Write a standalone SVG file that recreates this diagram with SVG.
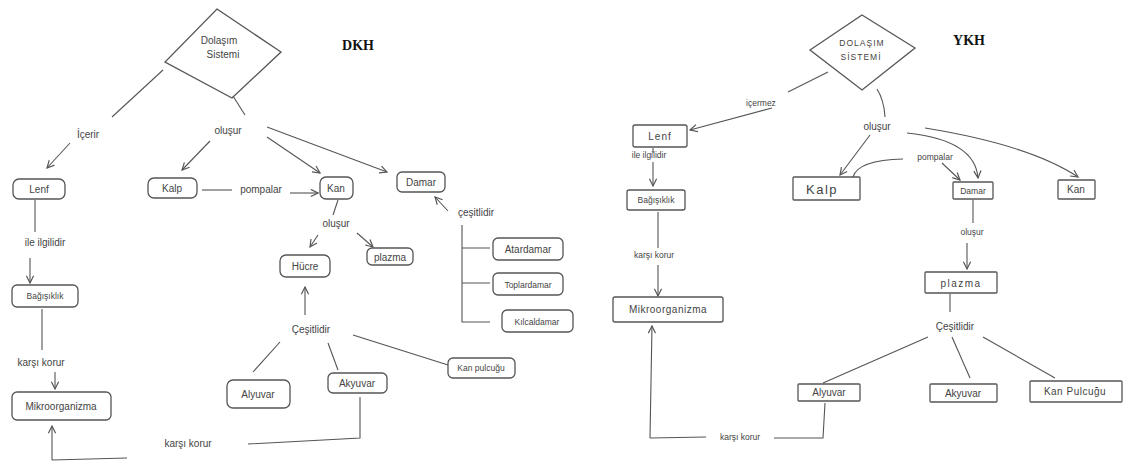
<svg xmlns="http://www.w3.org/2000/svg" width="1125" height="462" viewBox="0 0 1125 462">
<defs>
<marker id="ah" viewBox="0 0 10 10" refX="9" refY="5" markerWidth="9" markerHeight="9" markerUnits="userSpaceOnUse" orient="auto">
<path d="M1,1 L9,5 L1,9" fill="none" stroke="#555" stroke-width="1.3"/>
</marker>
<style>
.bx{fill:none;stroke:#555;stroke-width:1.3}
.ln{fill:none;stroke:#555;stroke-width:1.1}
.ar{fill:none;stroke:#555;stroke-width:1.1;marker-end:url(#ah)}
.t{font-family:"Liberation Sans",Arial,sans-serif;font-size:10px;fill:#444;text-anchor:middle}
.s{font-size:8.5px}
.lg{font-size:13px}
.h{font-family:"Liberation Serif","Times New Roman",serif;font-size:14px;font-weight:bold;fill:#111;text-anchor:middle}
</style>
</defs>
<rect width="1125" height="462" fill="#fff"/>

<g id="connectors">
<!-- left diagram -->
<path class="ln" d="M163,70 L112,117"/>
<path class="ar" d="M70,143 L47,168"/>
<path class="ln" d="M233,96 L245,115"/>
<path class="ar" d="M210,141 L182,170"/>
<path class="ar" d="M267,137 L320,173"/>
<path class="ar" d="M267,127 L387,172"/>
<path class="ln" d="M202,190 L232,190"/>
<path class="ar" d="M290,193 L318,193"/>
<path class="ar" d="M448,211 L435,197"/>
<path class="ln" d="M462,225 L462,322 L490,322 M462,248 L490,248 M462,283 L490,283"/>
<path class="ln" d="M338,200 L333,215"/>
<path class="ar" d="M318,235 L310,247"/>
<path class="ar" d="M357,233 L373,247"/>
<path class="ar" d="M305,315 L305,287"/>
<path class="ln" d="M280,342 L253,372"/>
<path class="ln" d="M328,343 L338,370"/>
<path class="ln" d="M353,335 L448,365"/>
<path class="ln" d="M35,200 L35,232"/>
<path class="ar" d="M30,258 L30,283"/>
<path class="ln" d="M42,309 L42,350"/>
<path class="ar" d="M55,372 L55,389"/>
<path class="ln" d="M360,397 L360,438 L248,444"/>
<path class="ln" d="M127,458 L52,460"/>
<path class="ar" d="M52,460 L52,426"/>
<!-- right diagram -->
<path class="ln" d="M828,72 L788,92"/>
<path class="ar" d="M772,108 L690,130"/>
<path class="ln" d="M653,148 L653,153"/>
<path class="ar" d="M653,162 L653,186"/>
<path class="ln" d="M658,212 L658,248"/>
<path class="ar" d="M658,265 L658,296"/>
<path class="ln" d="M877,89 Q884,100 885,117"/>
<path class="ar" d="M870,135 L840,175"/>
<path class="ar" d="M907,133 Q975,140 978,178"/>
<path class="ar" d="M925,128 Q1030,145 1078,177"/>
<path class="ln" d="M903,159 Q858,160 853,177"/>
<path class="ar" d="M942,163 L960,180"/>
<path class="ln" d="M973,200 L973,223"/>
<path class="ar" d="M967,243 L967,269"/>
<path class="ln" d="M950,294 L950,312"/>
<path class="ln" d="M928,337 L823,383"/>
<path class="ln" d="M952,337 L970,378"/>
<path class="ln" d="M983,337 L1055,378"/>
<path class="ln" d="M825,403 L823,438 L774,438 M706,437 L650,438"/>
<path class="ar" d="M650,438 L652,326"/>
</g>

<g id="labels">
<text class="t" x="88" y="138">İçerir</text>
<text class="t" x="228" y="134">oluşur</text>
<text class="t" x="261" y="193">pompalar</text>
<text class="t" x="476" y="216">çeşitlidir</text>
<text class="t" x="336" y="227">oluşur</text>
<text class="t" x="311" y="333">Çeşitlidir</text>
<text class="t" x="45" y="246">ile ilgilidir</text>
<text class="t" x="41" y="366">karşı korur</text>
<text class="t" x="188" y="447">karşı korur</text>
<text class="t s" x="761" y="106">içermez</text>
<text class="t s" x="649" y="158">ile ilgilidir</text>
<text class="t s" x="654" y="258">karşı korur</text>
<text class="t" x="877" y="130">oluşur</text>
<text class="t s" x="935" y="160">pompalar</text>
<text class="t s" x="972" y="235">oluşur</text>
<text class="t" x="955" y="330">Çeşitlidir</text>
<text class="t s" x="740" y="440">karşı korur</text>
</g>

<g id="dkh-title"><text class="h" x="358" y="50">DKH</text></g>
<g id="ykh-title"><text class="h" x="969" y="45">YKH</text></g>

<g id="dkh-dolasim"><path class="bx" d="M217,9 L281,52 L232,98 L165,62 Z"/><text class="t" x="219" y="44">Dolaşım</text><text class="t" x="223" y="58">Sistemi</text></g>
<g id="dkh-lenf"><rect class="bx" x="13" y="179" width="52" height="20" rx="6"/><text class="t" x="39" y="193">Lenf</text></g>
<g id="dkh-kalp"><rect class="bx" x="148" y="178" width="49" height="20" rx="6"/><text class="t" x="172" y="192">Kalp</text></g>
<g id="dkh-kan"><rect class="bx" x="320" y="177" width="33" height="22" rx="6"/><text class="t" x="336" y="192">Kan</text></g>
<g id="dkh-damar"><rect class="bx" x="397" y="172" width="48" height="20" rx="5"/><text class="t" x="421" y="186">Damar</text></g>
<g id="dkh-atardamar"><rect class="bx" x="493" y="238" width="70" height="22" rx="5"/><text class="t" x="528" y="253">Atardamar</text></g>
<g id="dkh-toplardamar"><rect class="bx" x="493" y="273" width="70" height="22" rx="5"/><text class="t s" x="528" y="288">Toplardamar</text></g>
<g id="dkh-kilcaldamar"><rect class="bx" x="502" y="310" width="71" height="22" rx="5"/><text class="t s" x="537" y="325">Kılcaldamar</text></g>
<g id="dkh-hucre"><rect class="bx" x="280" y="255" width="50" height="22" rx="6"/><text class="t" x="305" y="270">Hücre</text></g>
<g id="dkh-plazma"><rect class="bx" x="367" y="248" width="46" height="17" rx="5"/><text class="t" x="390" y="261">plazma</text></g>
<g id="dkh-alyuvar"><rect class="bx" x="227" y="380" width="63" height="28" rx="6"/><text class="t" x="258" y="398">Alyuvar</text></g>
<g id="dkh-akyuvar"><rect class="bx" x="328" y="373" width="59" height="20" rx="5"/><text class="t" x="357" y="387">Akyuvar</text></g>
<g id="dkh-kanpulcugu"><rect class="bx" x="448" y="358" width="67" height="20" rx="5"/><text class="t s" x="481" y="371">Kan pulcuğu</text></g>
<g id="dkh-bagisiklik"><rect class="bx" x="12" y="285" width="66" height="22" rx="5"/><text class="t s" x="45" y="299">Bağışıklık</text></g>
<g id="dkh-mikroorganizma"><rect class="bx" x="12" y="392" width="99" height="28" rx="5"/><text class="t" x="61" y="410">Mikroorganizma</text></g>

<g id="ykh-dolasim"><path class="bx" d="M862,15 L915,48 L862,90 L810,50 Z"/><text class="t s" x="862" y="46" letter-spacing="1">DOLAŞIM</text><text class="t s" x="861" y="60" letter-spacing="1">SİSTEMİ</text></g>
<g id="ykh-lenf"><rect class="bx" x="633" y="125" width="54" height="22" rx="2"/><text class="t" x="660" y="140" letter-spacing="1">Lenf</text></g>
<g id="ykh-bagisiklik"><rect class="bx" x="627" y="190" width="58" height="20" rx="2"/><text class="t s" x="656" y="203">Bağışıklık</text></g>
<g id="ykh-mikroorganizma"><rect class="bx" x="613" y="297" width="110" height="25" rx="2"/><text class="t" x="668" y="313" letter-spacing="0.5">Mikroorganizma</text></g>
<g id="ykh-kalp"><rect class="bx" x="793" y="177" width="67" height="23" rx="1"/><text class="t lg" x="822" y="194" letter-spacing="1.5">Kalp</text></g>
<g id="ykh-damar"><rect class="bx" x="953" y="182" width="40" height="17" rx="1"/><text class="t s" x="973" y="194">Damar</text></g>
<g id="ykh-kan"><rect class="bx" x="1058" y="180" width="37" height="19" rx="1"/><text class="t" x="1076" y="193">Kan</text></g>
<g id="ykh-plazma"><rect class="bx" x="925" y="272" width="72" height="21" rx="1"/><text class="t" x="961" y="287" letter-spacing="1.5">plazma</text></g>
<g id="ykh-alyuvar"><rect class="bx" x="798" y="384" width="62" height="17" rx="1"/><text class="t" x="829" y="396">Alyuvar</text></g>
<g id="ykh-akyuvar"><rect class="bx" x="930" y="384" width="67" height="18" rx="1"/><text class="t" x="963" y="397">Akyuvar</text></g>
<g id="ykh-kanpulcugu"><rect class="bx" x="1030" y="381" width="92" height="21" rx="1"/><text class="t" x="1075" y="395" letter-spacing="0.5">Kan  Pulcuğu</text></g>
</svg>
